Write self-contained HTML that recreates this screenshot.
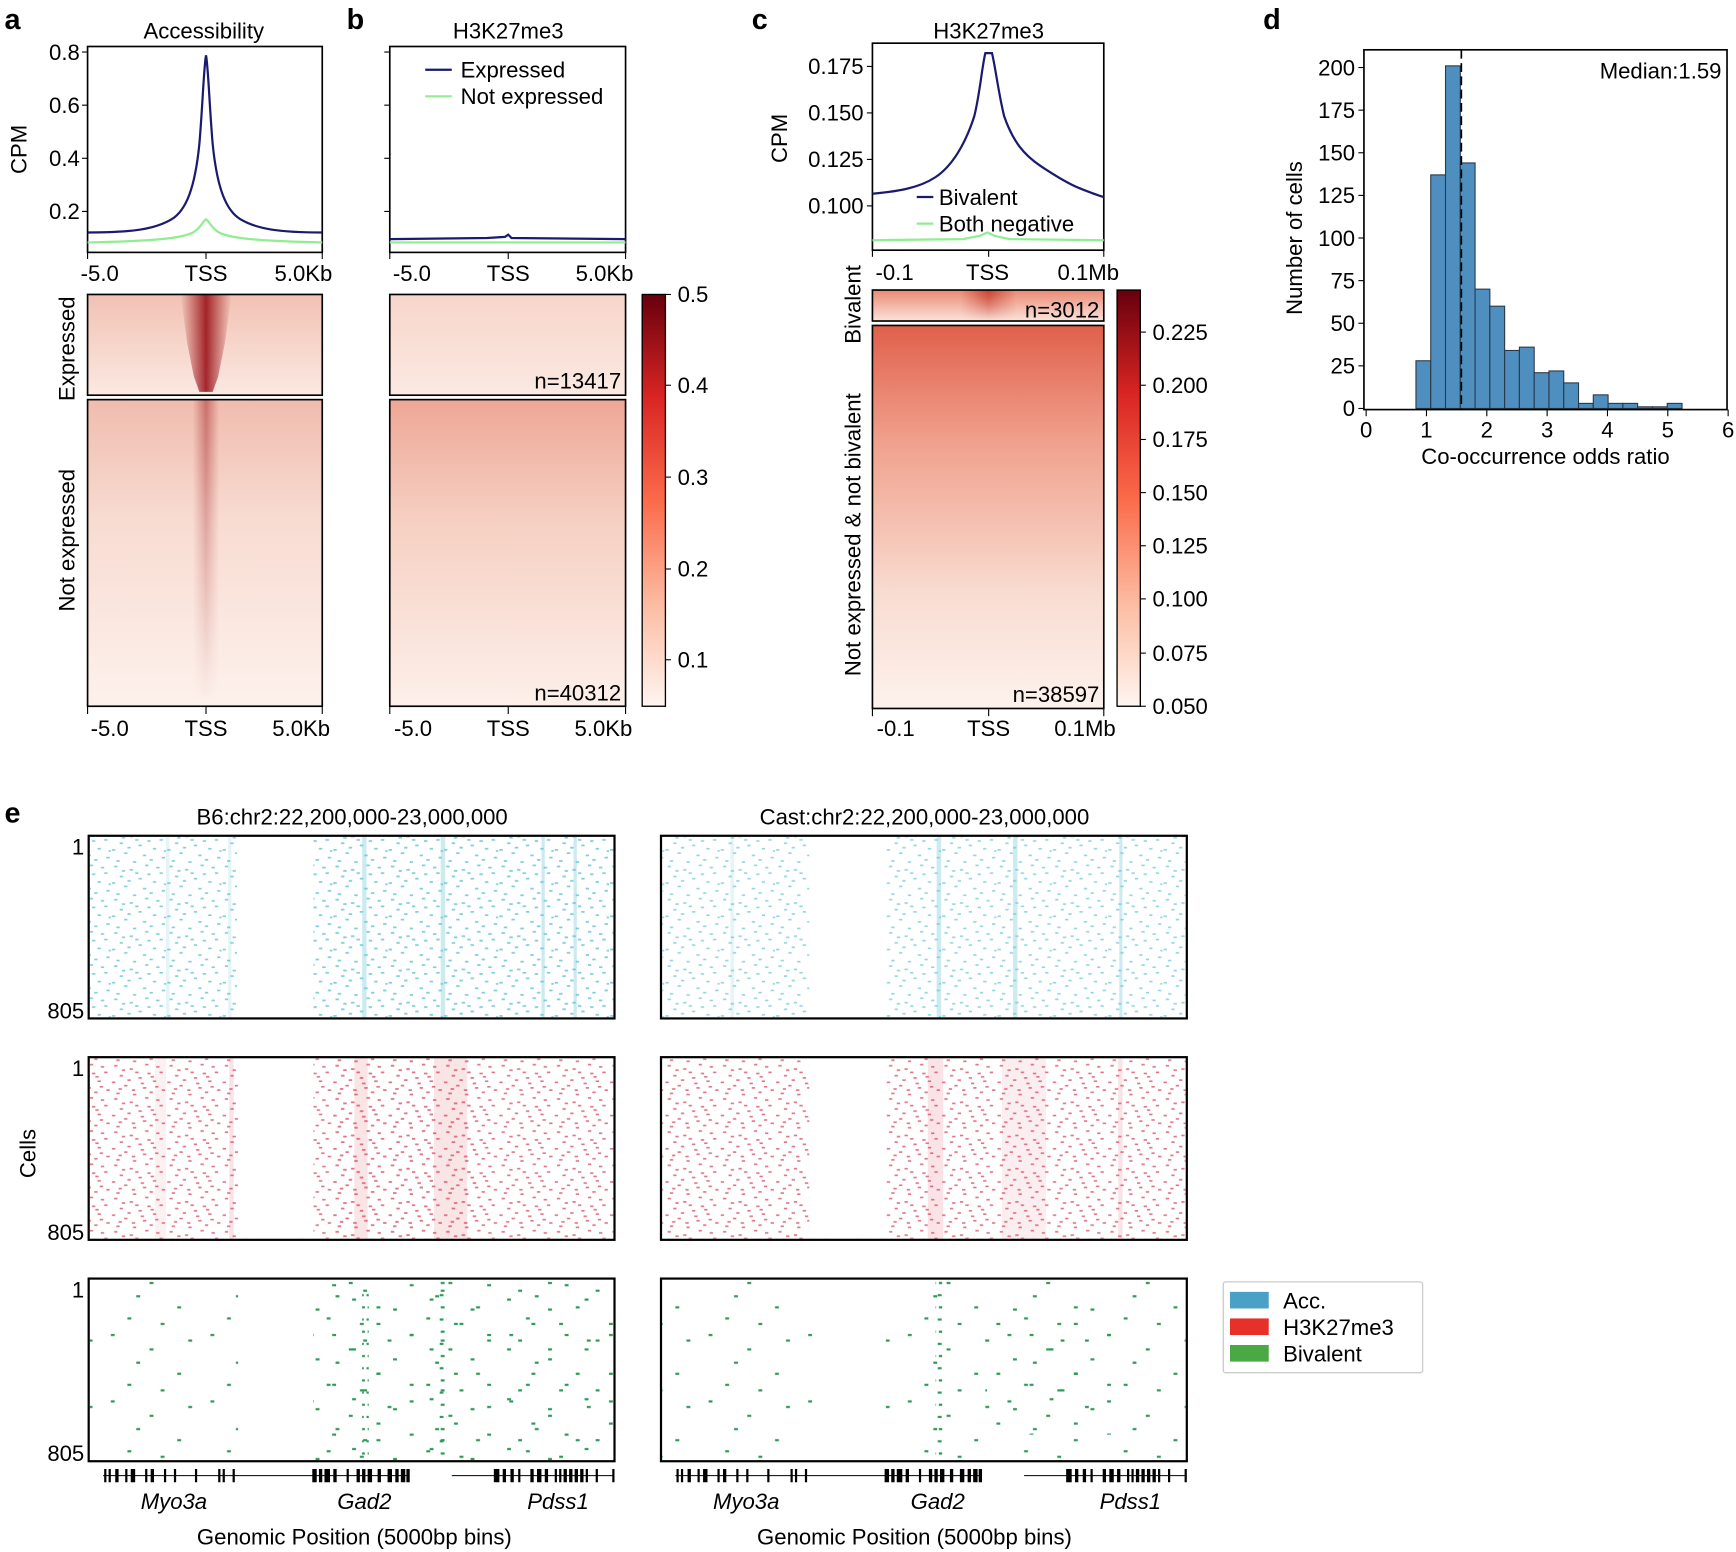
<!DOCTYPE html>
<html><head><meta charset="utf-8"><style>
html,body{margin:0;padding:0;background:#fff;}
svg{display:block;font-family:"Liberation Sans",Arial,sans-serif;}
</style></head><body>
<svg width="1736" height="1552" viewBox="0 0 1568 1402" xmlns="http://www.w3.org/2000/svg">
<defs>
<linearGradient id="cb" x1="0" y1="1" x2="0" y2="0">
<stop offset="0" stop-color="#fff5f0"/><stop offset="0.25" stop-color="#fcbba1"/><stop offset="0.5" stop-color="#fb6a4a"/><stop offset="0.75" stop-color="#d92523"/><stop offset="1" stop-color="#67000d"/></linearGradient>
<linearGradient id="bgA1" x1="0" y1="0" x2="0" y2="1"><stop offset="0" stop-color="#f2c1b3"/><stop offset="1" stop-color="#fbe9e2"/></linearGradient>
<linearGradient id="bgA2" x1="0" y1="0" x2="0" y2="1"><stop offset="0" stop-color="#f0bcae"/><stop offset="0.4" stop-color="#f8dcd2"/><stop offset="1" stop-color="#fdf1ec"/></linearGradient>
<linearGradient id="bgB1" x1="0" y1="0" x2="0" y2="1"><stop offset="0" stop-color="#f7d6cb"/><stop offset="1" stop-color="#fbe9e2"/></linearGradient>
<linearGradient id="bgB2" x1="0" y1="0" x2="0" y2="1"><stop offset="0" stop-color="#eea796"/><stop offset="0.4" stop-color="#f6d0c3"/><stop offset="1" stop-color="#fdf0ea"/></linearGradient>
<linearGradient id="bgC1" x1="0" y1="0" x2="0" y2="1"><stop offset="0" stop-color="#ea8a74"/><stop offset="1" stop-color="#fbe3da"/></linearGradient>
<linearGradient id="bgC2" x1="0" y1="0" x2="0" y2="1"><stop offset="0" stop-color="#e0604b"/><stop offset="0.3" stop-color="#f0a08c"/><stop offset="0.7" stop-color="#f9dcd1"/><stop offset="1" stop-color="#fdf2ed"/></linearGradient>
<linearGradient id="strA1" x1="0" y1="0" x2="1" y2="0"><stop offset="0" stop-color="#a01a1a" stop-opacity="0"/><stop offset="0.5" stop-color="#9a1118" stop-opacity="0.9"/><stop offset="1" stop-color="#a01a1a" stop-opacity="0"/></linearGradient>
<linearGradient id="strC1" x1="0" y1="0" x2="1" y2="0"><stop offset="0" stop-color="#c03020" stop-opacity="0"/><stop offset="0.5" stop-color="#c03020" stop-opacity="0.8"/><stop offset="1" stop-color="#c03020" stop-opacity="0"/></linearGradient>
<linearGradient id="fadeV" x1="0" y1="0" x2="0" y2="1"><stop offset="0" stop-color="#fff" stop-opacity="1"/><stop offset="1" stop-color="#fff" stop-opacity="0"/></linearGradient>
<mask id="mA2"><rect x="79" y="361" width="212" height="277" fill="url(#fadeV)"/></mask>
<mask id="mC1"><rect x="788" y="262" width="209" height="28" fill="url(#fadeV)"/></mask>
<pattern id="pc" width="50" height="30" patternUnits="userSpaceOnUse">
<g fill="#7fcfdc"><rect x="3" y="2" width="3" height="1.5"/><rect x="17" y="5" width="3" height="1.5"/><rect x="31" y="1" width="3" height="1.5"/><rect x="44" y="8" width="3" height="1.5"/><rect x="8" y="11" width="3" height="1.5"/><rect x="25" y="13" width="3" height="1.5"/><rect x="38" y="16" width="3" height="1.5"/><rect x="12" y="20" width="3" height="1.5"/><rect x="29" y="22" width="3" height="1.5"/><rect x="46" y="24" width="3" height="1.5"/><rect x="5" y="27" width="3" height="1.5"/><rect x="20" y="28" width="3" height="1.5"/><rect x="35" y="26" width="3" height="1.5"/><rect x="41" y="3" width="3" height="1.5"/><rect x="22" y="8" width="3" height="1.5"/><rect x="1" y="17" width="3" height="1.5"/><rect x="15" y="15" width="3" height="1.5"/><rect x="33" y="9" width="3" height="1.5"/><rect x="48" y="18" width="2" height="1.5"/><rect x="10" y="6" width="3" height="1.5"/></g></pattern>
<pattern id="pr" width="50" height="30" patternUnits="userSpaceOnUse">
<g fill="#e07585"><rect x="3" y="2" width="3" height="1.5"/><rect x="17" y="5" width="3" height="1.5"/><rect x="31" y="1" width="3" height="1.5"/><rect x="44" y="8" width="3" height="1.5"/><rect x="8" y="11" width="3" height="1.5"/><rect x="25" y="13" width="3" height="1.5"/><rect x="38" y="16" width="3" height="1.5"/><rect x="12" y="20" width="3" height="1.5"/><rect x="29" y="22" width="3" height="1.5"/><rect x="46" y="24" width="3" height="1.5"/><rect x="5" y="27" width="3" height="1.5"/><rect x="20" y="28" width="3" height="1.5"/><rect x="35" y="26" width="3" height="1.5"/><rect x="41" y="3" width="3" height="1.5"/><rect x="22" y="8" width="3" height="1.5"/><rect x="1" y="17" width="3" height="1.5"/><rect x="15" y="15" width="3" height="1.5"/><rect x="33" y="9" width="3" height="1.5"/><rect x="10" y="6" width="3" height="1.5"/><rect x="27" y="18" width="3" height="1.5"/><rect x="40" y="21" width="3" height="1.5"/><rect x="7" y="23" width="3" height="1.5"/><rect x="36" y="12" width="3" height="1.5"/><rect x="19" y="24" width="3" height="1.5"/></g></pattern>
<pattern id="pg" width="90" height="60" patternUnits="userSpaceOnUse">
<g fill="#2e9a5a"><rect x="10" y="5" width="3.5" height="2"/><rect x="45" y="18" width="3.5" height="2"/><rect x="70" y="40" width="3.5" height="2"/><rect x="25" y="50" width="3.5" height="2"/><rect x="80" y="10" width="3.5" height="2"/><rect x="55" y="55" width="3.5" height="2"/><rect x="33" y="30" width="3.5" height="2"/></g></pattern>
<pattern id="pg2" width="70" height="45" patternUnits="userSpaceOnUse">
<g fill="#2e9a5a"><rect x="5" y="12" width="3.5" height="2"/><rect x="38" y="3" width="3.5" height="2"/><rect x="60" y="25" width="3.5" height="2"/><rect x="20" y="35" width="3.5" height="2"/><rect x="48" y="40" width="3.5" height="2"/></g></pattern>
<pattern id="pgs" width="6" height="22" patternUnits="userSpaceOnUse"><rect x="1" y="3" width="3.5" height="2" fill="#2e9a5a"/><rect x="2" y="14" width="3.5" height="2" fill="#2e9a5a"/></pattern>
<g id="trk">
<line x1="93" y1="1333" x2="370" y2="1333" stroke="#000" stroke-width="1"/>
<line x1="408" y1="1333" x2="555" y2="1333" stroke="#000" stroke-width="1"/>
<g fill="#000">
<rect x="94" y="1327" width="2" height="12"/><rect x="98" y="1327" width="2" height="12"/><rect x="104" y="1327" width="3" height="12"/><rect x="113" y="1327" width="2" height="12"/><rect x="118" y="1327" width="4" height="12"/><rect x="131" y="1327" width="2" height="12"/><rect x="136" y="1327" width="3" height="12"/><rect x="148" y="1327" width="2" height="12"/><rect x="157" y="1327" width="2" height="12"/><rect x="176" y="1327" width="2" height="12"/><rect x="197" y="1327" width="2" height="12"/><rect x="201" y="1327" width="2" height="12"/><rect x="210" y="1327" width="2" height="12"/>
<rect x="282" y="1327" width="4" height="12"/><rect x="288" y="1327" width="3" height="12"/><rect x="293" y="1327" width="5" height="12"/><rect x="301" y="1327" width="3" height="12"/><rect x="313" y="1327" width="2" height="12"/><rect x="322" y="1327" width="3" height="12"/><rect x="327" y="1327" width="3" height="12"/><rect x="332" y="1327" width="4" height="12"/><rect x="341" y="1327" width="3" height="12"/><rect x="350" y="1327" width="4" height="12"/><rect x="357" y="1327" width="3" height="12"/><rect x="362" y="1327" width="4" height="12"/><rect x="367" y="1327" width="3" height="12"/>
<rect x="446" y="1327" width="5" height="12"/><rect x="454" y="1327" width="3" height="12"/><rect x="461" y="1327" width="3" height="12"/><rect x="468" y="1327" width="2" height="12"/><rect x="479" y="1327" width="3" height="12"/><rect x="485" y="1327" width="4" height="12"/><rect x="492" y="1327" width="3" height="12"/><rect x="501" y="1327" width="2" height="12"/><rect x="505" y="1327" width="2" height="12"/><rect x="509" y="1327" width="3" height="12"/><rect x="514" y="1327" width="3" height="12"/><rect x="519" y="1327" width="3" height="12"/><rect x="524" y="1327" width="3" height="12"/><rect x="529" y="1327" width="2" height="12"/><rect x="538" y="1327" width="2" height="12"/><rect x="553" y="1327" width="2" height="12"/>
</g></g>
</defs>
<g font-size="20" fill="#000">
<text x="4" y="26" font-size="26" font-weight="bold">a</text>
<text x="313" y="26" font-size="26" font-weight="bold">b</text>
<text x="679" y="26" font-size="26" font-weight="bold">c</text>
<text x="1141" y="26" font-size="26" font-weight="bold">d</text>
<text x="4" y="743" font-size="26" font-weight="bold">e</text>

<text x="184" y="35" text-anchor="middle">Accessibility</text>
<rect x="79" y="42" width="212" height="186" fill="none" stroke="#000" stroke-width="1.5"/>
<g stroke="#000"><line x1="74" y1="47" x2="79" y2="47"/><line x1="74" y1="95" x2="79" y2="95"/><line x1="74" y1="143" x2="79" y2="143"/><line x1="74" y1="191" x2="79" y2="191"/>
<line x1="79" y1="228" x2="79" y2="234"/><line x1="186" y1="228" x2="186" y2="234"/><line x1="291" y1="228" x2="291" y2="234"/></g>
<g text-anchor="end"><text x="72" y="54">0.8</text><text x="72" y="102">0.6</text><text x="72" y="150">0.4</text><text x="72" y="198">0.2</text></g>
<text transform="translate(24,135) rotate(-90)" text-anchor="middle">CPM</text>
<g text-anchor="middle"><text x="90" y="254">-5.0</text><text x="186" y="254">TSS</text><text x="274" y="254">5.0Kb</text></g>
<path d="M79,210 C120,210 140,207 155,198 C168,190 176,170 180,130 C183,95 184,60 186,50 C188,60 189,95 192,130 C196,170 204,190 217,198 C232,207 252,210 291,210" fill="none" stroke="#1a1a6e" stroke-width="2"/>
<path d="M79,219 C130,218 160,216 172,211 C180,208 183,200 186,198 C189,200 192,208 200,211 C212,216 242,218 291,219" fill="none" stroke="#90ee90" stroke-width="2"/>
<rect x="79" y="266" width="212" height="91" fill="url(#bgA1)"/>
<path d="M163,266 L209,266 L203,310 L197,340 L192,354 L180,354 L175,340 L169,310 Z" fill="url(#strA1)"/>
<rect x="79" y="361" width="212" height="277" fill="url(#bgA2)"/>
<rect x="174" y="361" width="24" height="277" fill="url(#strA1)" mask="url(#mA2)" opacity="0.5"/>
<rect x="79" y="266" width="212" height="91" fill="none" stroke="#000" stroke-width="1.5"/>
<rect x="79" y="361" width="212" height="277" fill="none" stroke="#000" stroke-width="1.5"/>
<text transform="translate(67,315) rotate(-90)" text-anchor="middle">Expressed</text>
<text transform="translate(67,488) rotate(-90)" text-anchor="middle">Not expressed</text>
<g stroke="#000"><line x1="79" y1="638" x2="79" y2="645"/><line x1="186" y1="638" x2="186" y2="645"/><line x1="291" y1="638" x2="291" y2="645"/></g>
<g text-anchor="middle"><text x="99" y="665">-5.0</text><text x="186" y="665">TSS</text><text x="272" y="665">5.0Kb</text></g>

<text x="459" y="35" text-anchor="middle">H3K27me3</text>
<rect x="352" y="42" width="213" height="186" fill="none" stroke="#000" stroke-width="1.5"/>
<g stroke="#000"><line x1="347" y1="47" x2="352" y2="47"/><line x1="347" y1="95" x2="352" y2="95"/><line x1="347" y1="143" x2="352" y2="143"/><line x1="347" y1="191" x2="352" y2="191"/>
<line x1="352" y1="228" x2="352" y2="234"/><line x1="459" y1="228" x2="459" y2="234"/><line x1="565" y1="228" x2="565" y2="234"/></g>
<line x1="384" y1="63" x2="408" y2="63" stroke="#1a1a6e" stroke-width="2"/><text x="416" y="70">Expressed</text>
<line x1="384" y1="87" x2="408" y2="87" stroke="#90ee90" stroke-width="2"/><text x="416" y="94">Not expressed</text>
<path d="M352,216 L440,215 L456,214 L459,212 L462,215 L565,216" fill="none" stroke="#1a1a6e" stroke-width="2"/>
<path d="M352,219 L565,219" fill="none" stroke="#90ee90" stroke-width="2"/>
<g text-anchor="middle"><text x="372" y="254">-5.0</text><text x="459" y="254">TSS</text><text x="546" y="254">5.0Kb</text></g>
<rect x="352" y="266" width="213" height="91" fill="url(#bgB1)"/>
<rect x="352" y="361" width="213" height="277" fill="url(#bgB2)"/>
<rect x="352" y="266" width="213" height="91" fill="none" stroke="#000" stroke-width="1.5"/>
<rect x="352" y="361" width="213" height="277" fill="none" stroke="#000" stroke-width="1.5"/>
<text x="561" y="351" text-anchor="end">n=13417</text>
<text x="561" y="633" text-anchor="end">n=40312</text>
<g stroke="#000"><line x1="352" y1="638" x2="352" y2="645"/><line x1="459" y1="638" x2="459" y2="645"/><line x1="565" y1="638" x2="565" y2="645"/></g>
<g text-anchor="middle"><text x="373" y="665">-5.0</text><text x="459" y="665">TSS</text><text x="545" y="665">5.0Kb</text></g>
<rect x="580" y="266" width="21" height="372" fill="url(#cb)" stroke="#000" stroke-width="1.2"/>
<g stroke="#000"><line x1="601" y1="266" x2="606" y2="266"/><line x1="601" y1="348" x2="606" y2="348"/><line x1="601" y1="431" x2="606" y2="431"/><line x1="601" y1="514" x2="606" y2="514"/><line x1="601" y1="596" x2="606" y2="596"/></g>
<g><text x="612" y="273">0.5</text><text x="612" y="355">0.4</text><text x="612" y="438">0.3</text><text x="612" y="521">0.2</text><text x="612" y="603">0.1</text></g>

<text x="893" y="35" text-anchor="middle">H3K27me3</text>
<rect x="788" y="39" width="209" height="187" fill="none" stroke="#000" stroke-width="1.5"/>
<g stroke="#000"><line x1="783" y1="60" x2="788" y2="60"/><line x1="783" y1="102" x2="788" y2="102"/><line x1="783" y1="144" x2="788" y2="144"/><line x1="783" y1="186" x2="788" y2="186"/>
<line x1="788" y1="226" x2="788" y2="232"/><line x1="893" y1="226" x2="893" y2="232"/><line x1="997" y1="226" x2="997" y2="232"/></g>
<g text-anchor="end"><text x="780" y="67">0.175</text><text x="780" y="109">0.150</text><text x="780" y="151">0.125</text><text x="780" y="193">0.100</text></g>
<text transform="translate(711,125) rotate(-90)" text-anchor="middle">CPM</text>
<path d="M788,175 C810,173 830,170 845,160 C860,150 872,130 880,105 C885,85 887,60 890,48 L896,48 C899,60 902,85 907,105 C915,128 925,140 940,150 C955,160 965,166 975,170 C985,174 990,176 997,178" fill="none" stroke="#1a1a6e" stroke-width="2"/>
<path d="M788,217 L870,216 L885,213 L892,210 L898,213 L912,216 L997,217" fill="none" stroke="#90ee90" stroke-width="2"/>
<line x1="828" y1="178" x2="843" y2="178" stroke="#1a1a6e" stroke-width="2"/><text x="848" y="185">Bivalent</text>
<line x1="828" y1="202" x2="843" y2="202" stroke="#90ee90" stroke-width="2"/><text x="848" y="209">Both negative</text>
<g text-anchor="middle"><text x="808" y="253">-0.1</text><text x="892" y="253">TSS</text><text x="983" y="253">0.1Mb</text></g>
<rect x="788" y="262" width="209" height="28" fill="url(#bgC1)"/>
<rect x="868" y="262" width="50" height="28" fill="url(#strC1)" mask="url(#mC1)"/>
<rect x="788" y="294" width="209" height="346" fill="url(#bgC2)"/>
<rect x="788" y="262" width="209" height="28" fill="none" stroke="#000" stroke-width="1.5"/>
<rect x="788" y="294" width="209" height="346" fill="none" stroke="#000" stroke-width="1.5"/>
<text x="993" y="287" text-anchor="end">n=3012</text>
<text x="993" y="634" text-anchor="end">n=38597</text>
<text transform="translate(777,275) rotate(-90)" text-anchor="middle">Bivalent</text>
<text transform="translate(777,483) rotate(-90)" text-anchor="middle">Not expressed &amp; not bivalent</text>
<g stroke="#000"><line x1="788" y1="640" x2="788" y2="647"/><line x1="893" y1="640" x2="893" y2="647"/><line x1="997" y1="640" x2="997" y2="647"/></g>
<g text-anchor="middle"><text x="809" y="665">-0.1</text><text x="893" y="665">TSS</text><text x="980" y="665">0.1Mb</text></g>
<rect x="1009" y="262" width="21" height="376" fill="url(#cb)" stroke="#000" stroke-width="1.2"/>
<g stroke="#000"><line x1="1030" y1="300" x2="1035" y2="300"/><line x1="1030" y1="348" x2="1035" y2="348"/><line x1="1030" y1="397" x2="1035" y2="397"/><line x1="1030" y1="445" x2="1035" y2="445"/><line x1="1030" y1="493" x2="1035" y2="493"/><line x1="1030" y1="541" x2="1035" y2="541"/><line x1="1030" y1="590" x2="1035" y2="590"/><line x1="1030" y1="638" x2="1035" y2="638"/></g>
<g><text x="1041" y="307">0.225</text><text x="1041" y="355">0.200</text><text x="1041" y="404">0.175</text><text x="1041" y="452">0.150</text><text x="1041" y="500">0.125</text><text x="1041" y="548">0.100</text><text x="1041" y="597">0.075</text><text x="1041" y="645">0.050</text></g>

<g fill="#4f8fc0" stroke="#2a3a4a" stroke-width="1">
<rect x="1279" y="325.9" width="13.35" height="43.1"/>
<rect x="1292.35" y="158" width="13.35" height="211"/>
<rect x="1305.7" y="59.5" width="13.35" height="309.5"/>
<rect x="1319.05" y="147.2" width="13.35" height="221.8"/>
<rect x="1332.4" y="261.2" width="13.35" height="107.8"/>
<rect x="1345.75" y="276.6" width="13.35" height="92.4"/>
<rect x="1359.1" y="316.6" width="13.35" height="52.4"/>
<rect x="1372.45" y="313.6" width="13.35" height="55.4"/>
<rect x="1385.8" y="336.7" width="13.35" height="32.3"/>
<rect x="1399.15" y="335.1" width="13.35" height="33.9"/>
<rect x="1412.5" y="345.9" width="13.35" height="23.1"/>
<rect x="1425.85" y="364.4" width="13.35" height="4.6"/>
<rect x="1439.2" y="356.7" width="13.35" height="12.3"/>
<rect x="1452.55" y="364.4" width="13.35" height="4.6"/>
<rect x="1465.9" y="364.4" width="13.35" height="4.6"/>
<rect x="1479.25" y="367.5" width="13.35" height="1.5"/>
<rect x="1492.6" y="367.5" width="13.35" height="1.5"/>
<rect x="1506.0" y="364.4" width="13.35" height="4.6"/>
</g>
<rect x="1232" y="45" width="328" height="325" fill="none" stroke="#000" stroke-width="1.5"/>
<line x1="1320" y1="45" x2="1320" y2="370" stroke="#000" stroke-width="1.5" stroke-dasharray="8,4"/>
<text x="1555" y="71" text-anchor="end">Median:1.59</text>
<g stroke="#000">
<line x1="1227" y1="369" x2="1232" y2="369"/><line x1="1227" y1="330.5" x2="1232" y2="330.5"/><line x1="1227" y1="292" x2="1232" y2="292"/><line x1="1227" y1="253.5" x2="1232" y2="253.5"/><line x1="1227" y1="215" x2="1232" y2="215"/><line x1="1227" y1="176.5" x2="1232" y2="176.5"/><line x1="1227" y1="138" x2="1232" y2="138"/><line x1="1227" y1="99.5" x2="1232" y2="99.5"/><line x1="1227" y1="61" x2="1232" y2="61"/>
<line x1="1234" y1="370" x2="1234" y2="376"/><line x1="1288.5" y1="370" x2="1288.5" y2="376"/><line x1="1343" y1="370" x2="1343" y2="376"/><line x1="1397.5" y1="370" x2="1397.5" y2="376"/><line x1="1452" y1="370" x2="1452" y2="376"/><line x1="1506.5" y1="370" x2="1506.5" y2="376"/><line x1="1561" y1="370" x2="1561" y2="376"/>
</g>
<g text-anchor="end"><text x="1224" y="376">0</text><text x="1224" y="337.5">25</text><text x="1224" y="299">50</text><text x="1224" y="260.5">75</text><text x="1224" y="222">100</text><text x="1224" y="183.5">125</text><text x="1224" y="145">150</text><text x="1224" y="106.5">175</text><text x="1224" y="68">200</text></g>
<g text-anchor="middle"><text x="1234" y="395">0</text><text x="1288.5" y="395">1</text><text x="1343" y="395">2</text><text x="1397.5" y="395">3</text><text x="1452" y="395">4</text><text x="1506.5" y="395">5</text><text x="1561" y="395">6</text></g>
<text transform="translate(1176,215) rotate(-90)" text-anchor="middle">Number of cells</text>
<text x="1396" y="419" text-anchor="middle">Co-occurrence odds ratio</text>

<text x="318" y="745" text-anchor="middle">B6:chr2:22,200,000-23,000,000</text>
<text x="835" y="745" text-anchor="middle">Cast:chr2:22,200,000-23,000,000</text>
<rect x="81" y="756" width="473" height="163" fill="url(#pc)"/>
<rect x="598" y="756" width="473" height="163" fill="url(#pc)" opacity="0.85"/>
<rect x="283" y="756" width="271" height="163" fill="url(#pc)" opacity="0.5"/>
<g fill="#6cc6d6" opacity="0.35">
<rect x="327" y="756" width="4" height="163"/><rect x="398" y="756" width="4" height="163"/><rect x="489" y="756" width="3" height="163"/><rect x="518" y="756" width="3" height="163"/><rect x="150" y="756" width="3" height="163" opacity="0.5"/><rect x="206" y="756" width="3" height="163" opacity="0.5"/>
<rect x="846" y="756" width="4" height="163"/><rect x="915" y="756" width="4" height="163"/><rect x="1011" y="756" width="3" height="163"/><rect x="660" y="756" width="3" height="163" opacity="0.5"/>
</g>
<rect x="214" y="756" width="69" height="163" fill="#fff"/>
<rect x="731" y="756" width="69" height="163" fill="#fff"/>
<rect x="81" y="956" width="473" height="163" fill="url(#pr)"/>
<rect x="598" y="956" width="473" height="163" fill="url(#pr)"/>
<rect x="300" y="956" width="130" height="163" fill="url(#pr)" opacity="0.6"/>
<g fill="#d9475a" opacity="0.15">
<rect x="320" y="956" width="12" height="163"/><rect x="392" y="956" width="30" height="163"/><rect x="140" y="956" width="10" height="163" opacity="0.5"/><rect x="207" y="956" width="4" height="163"/>
<rect x="838" y="956" width="14" height="163"/><rect x="905" y="956" width="40" height="163" opacity="0.6"/><rect x="1010" y="956" width="4" height="163"/>
</g>
<rect x="215" y="956" width="68" height="163" fill="#fff"/>
<rect x="731" y="956" width="69" height="163" fill="#fff"/>
<rect x="81" y="1156" width="473" height="163" fill="url(#pg)"/>
<rect x="598" y="1156" width="473" height="163" fill="url(#pg)"/>
<rect x="283" y="1156" width="271" height="163" fill="url(#pg2)"/>
<rect x="397" y="1156" width="6" height="163" fill="url(#pgs)"/>
<rect x="327" y="1163" width="6" height="156" fill="url(#pgs)"/>
<rect x="845" y="1156" width="6" height="163" fill="url(#pgs)"/>
<rect x="890" y="1176" width="120" height="120" fill="url(#pg2)"/>
<rect x="215" y="1156" width="68" height="163" fill="#fff"/>
<rect x="735" y="1156" width="65" height="163" fill="#fff"/>
<g fill="none" stroke="#000" stroke-width="2">
<rect x="80" y="755" width="475" height="165"/><rect x="597" y="755" width="475" height="165"/>
<rect x="80" y="955" width="475" height="165"/><rect x="597" y="955" width="475" height="165"/>
<rect x="80" y="1155" width="475" height="165"/><rect x="597" y="1155" width="475" height="165"/>
</g>
<g text-anchor="end"><text x="76" y="772">1</text><text x="76" y="920">805</text>
<text x="76" y="972">1</text><text x="76" y="1120">805</text>
<text x="76" y="1172">1</text><text x="76" y="1320">805</text></g>
<text transform="translate(32,1042) rotate(-90)" text-anchor="middle">Cells</text>
<use href="#trk"/>
<use href="#trk" transform="translate(517,0)"/>
<g font-style="italic" text-anchor="middle"><text x="157" y="1363">Myo3a</text><text x="329" y="1363">Gad2</text><text x="504" y="1363">Pdss1</text>
<text x="674" y="1363">Myo3a</text><text x="847" y="1363">Gad2</text><text x="1021" y="1363">Pdss1</text></g>
<text x="320" y="1395" text-anchor="middle">Genomic Position (5000bp bins)</text>
<text x="826" y="1395" text-anchor="middle">Genomic Position (5000bp bins)</text>
<rect x="1105" y="1158" width="180" height="82" fill="#fff" stroke="#ccc" stroke-width="1.2" rx="2"/>
<rect x="1111" y="1167" width="35" height="15" fill="#4aa0c5"/><text x="1159" y="1182">Acc.</text>
<rect x="1111" y="1191" width="35" height="15" fill="#e8302a"/><text x="1159" y="1206">H3K27me3</text>
<rect x="1111" y="1215" width="35" height="15" fill="#4aa845"/><text x="1159" y="1230">Bivalent</text>
</g>
</svg>
</body></html>
